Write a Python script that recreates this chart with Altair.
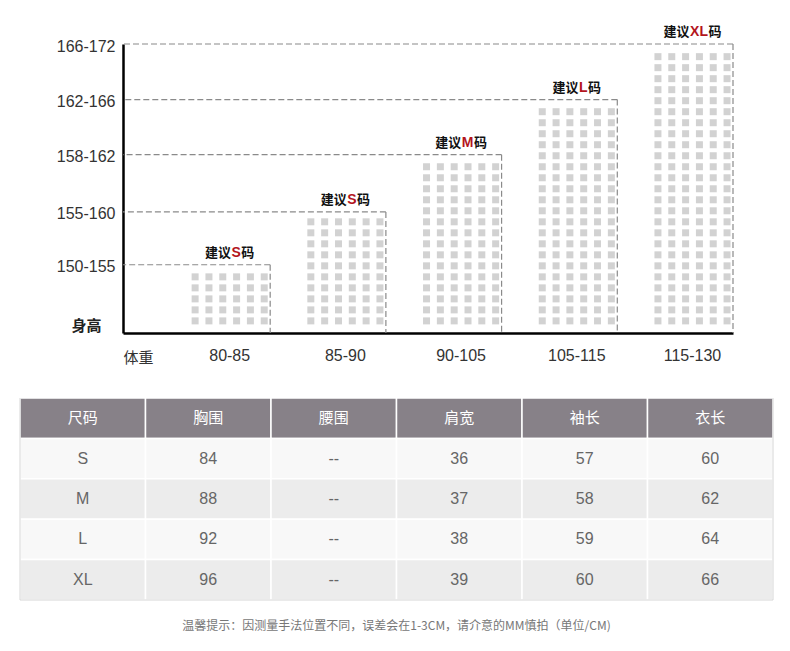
import altair as alt
import pandas as pd

# ---------------- data ----------------
weights = ["80-85", "85-90", "90-105", "105-115", "115-130"]
height_ranges = ["150-155", "155-160", "158-162", "162-166", "166-172"]
levels = [6.1, 10.9, 16.1, 21.1, 26.15]          # bar heights (grid-row units)
suggest = ["S", "S", "M", "L", "XL"]
square_rows = [5, 10, 15, 20, 25]
square_cols = 6

columns = ["尺码", "胸围", "腰围", "肩宽", "袖长", "衣长"]
sizes = ["S", "M", "L", "XL"]
chest = ["84", "88", "92", "96"]
waist = ["--", "--", "--", "--"]
shoulder = ["36", "37", "38", "39"]
sleeve = ["57", "58", "59", "60"]
length = ["60", "62", "64", "66"]
note = "温馨提示：因测量手法位置不同，误差会在1-3CM，请介意的MM慎拍（单位/CM)"

CJK = "Noto Sans CJK SC"
LAT = "Liberation Sans"

# ---------------- top chart ----------------
bars = pd.DataFrame({"weight": weights, "level": levels, "size": suggest,
                     "hr": height_ranges})
sq = pd.DataFrame([
    {"weight": w, "row": r + 1, "col": c}
    for w, n in zip(weights, square_rows)
    for r in range(n)
    for c in range(square_cols)
])

label_expr = "".join(f"datum.value == {lv} ? '{h}' : " for lv, h in zip(levels, height_ranges)) + "''"

x_scale = alt.Scale(domain=weights, paddingInner=0.3, paddingOuter=0.286, align=1)
y_scale = alt.Scale(domain=[-0.1, levels[-1]], nice=False, zero=False)

x_axis = alt.Axis(title="体重", titleX=0, titleY=24, titleAlign="left", titleBaseline="middle",
                  titleFont=CJK, titleFontSize=15, titleFontWeight="normal", titleColor="#333",
                  labelFont=LAT, labelFontSize=16, labelColor="#333",
                  labelPadding=14, labelAngle=0, ticks=False, grid=False,
                  domainColor="#000", domainWidth=2.5)
y_axis = alt.Axis(values=levels, labelExpr=label_expr, title="身高", titleAngle=0,
                  titleX=-37, titleY=281, titleAlign="center", titleBaseline="middle",
                  titleFont=CJK, titleFontSize=15, titleFontWeight="bold", titleColor="#222",
                  labelFont=LAT, labelFontSize=16, labelColor="#333",
                  labelPadding=8, labelOffset=2, ticks=False, grid=False,
                  domainColor="#000", domainWidth=2.5)


def X(**kw):
    return alt.X("weight:N", sort=weights, scale=x_scale, axis=x_axis, **kw)


def Y(field):
    return alt.Y(field, scale=y_scale, axis=y_axis)


squares = alt.Chart(sq).mark_square(size=49, color="#d2d2d2", opacity=1).encode(
    x=X(),
    xOffset=alt.XOffset("col:O", scale=alt.Scale(paddingOuter=0.43, paddingInner=0)),
    y=Y("row:Q"),
)

dash = dict(strokeDash=[6, 3], color="#8a8a8a", strokeWidth=1.2)
hdash = alt.Chart(bars).mark_rule(**dash).encode(
    x=X(bandPosition=1), x2=alt.value(0), y=Y("level:Q"))
vdash = alt.Chart(bars).mark_rule(**dash).encode(
    x=X(bandPosition=1), y=Y("level:Q"), y2=alt.value("height"))

# "建议" + red size letter + "码": letter centred, CJK parts placed beside it
LETTER_W = {"S": 9.3, "M": 11.7, "L": 8.6, "XL": 17.9}   # bold 14px glyph widths
CENTER = 6.5
lab_layers = [alt.Chart(bars).mark_text(
    align="center", baseline="middle", dx=CENTER, dy=-12, font=LAT, fontSize=14,
    fontWeight="bold", color="#b3151d").encode(x=X(), y=Y("level:Q"), text="size:N")]
for s in sorted(set(suggest), key=suggest.index):
    w = LETTER_W[s]
    sub = alt.Chart(bars).transform_filter(f"datum.size == '{s}'")
    lab_layers.append(sub.transform_calculate(t="'建议'").mark_text(
        align="right", baseline="middle", dx=CENTER - w / 2 - 0.5, dy=-12, font=CJK,
        fontSize=13, fontWeight="bold", color="#111").encode(x=X(), y=Y("level:Q"), text="t:N"))
    lab_layers.append(sub.transform_calculate(t="'码'").mark_text(
        align="left", baseline="middle", dx=CENTER + w / 2 + 0.5, dy=-12, font=CJK,
        fontSize=13, fontWeight="bold", color="#111").encode(x=X(), y=Y("level:Q"), text="t:N"))

top = alt.layer(squares, hdash, vdash, *lab_layers).properties(width=610, height=289)

# ---------------- table ----------------
row_keys = ["head", "S", "M", "L", "XL"]
row_colors = ["#878188", "#f8f8f8", "#ececec", "#f8f8f8", "#ececec"]
cells = [{"row": "head", "i": j, "t": c} for j, c in enumerate(columns)]
for k, s in enumerate(sizes):
    vals = [s, chest[k], waist[k], shoulder[k], sleeve[k], length[k]]
    cells += [{"row": s, "i": j, "t": v} for j, v in enumerate(vals)]
cells = pd.DataFrame(cells)

ncol = len(columns)
tx = alt.Scale(domain=[0, ncol], range=[-103, 650], nice=False, zero=False)
ty = alt.Scale(domain=row_keys, paddingInner=0, paddingOuter=0)


def TY(**kw):
    return alt.Y("row:N", sort=row_keys, scale=ty, axis=None, **kw)


base = alt.Chart(cells).transform_calculate(i1="datum.i + 1", ic="datum.i + 0.5")
rects = base.mark_rect(stroke="white", strokeWidth=1.5).encode(
    x=alt.X("i:Q", scale=tx, axis=None), x2="i1:Q", y=TY(),
    fill=alt.Fill("row:N", scale=alt.Scale(domain=row_keys, range=row_colors), legend=None),
)
frame = pd.DataFrame({"x0": [0], "x1": [ncol], "row": ["XL"]})
left_edge = alt.Chart(frame).mark_rule(color="#d6d6d6", strokeWidth=1).encode(
    x=alt.X("x0:Q", scale=tx, axis=None))
right_edge = alt.Chart(frame).mark_rule(color="#d6d6d6", strokeWidth=1).encode(
    x=alt.X("x1:Q", scale=tx, axis=None))
bottom_edge = alt.Chart(frame).mark_rule(color="#d6d6d6", strokeWidth=1).encode(
    x=alt.X("x0:Q", scale=tx, axis=None), x2="x1:Q", y=TY(bandPosition=1))

head_text = base.transform_filter("datum.row == 'head'").mark_text(
    font=CJK, fontSize=15, color="white", baseline="middle").encode(
    x=alt.X("ic:Q", scale=tx, axis=None), y=TY(), text="t:N")
body_text = base.transform_filter("datum.row != 'head'").mark_text(
    font=LAT, fontSize=16, color="#666", baseline="middle").encode(
    x=alt.X("ic:Q", scale=tx, axis=None), y=TY(), text="t:N")

table = alt.layer(rects, left_edge, right_edge, bottom_edge, head_text, body_text).properties(
    width=650, height=202,
    title=alt.TitleParams(note, orient="bottom", anchor="middle", frame="bounds",
                          font=CJK, fontSize=12, fontWeight="normal", color="#777", offset=20),
)

chart = alt.vconcat(top, table, spacing=32).properties(
    padding={"left": 11, "top": 17, "right": 5, "bottom": 5},
    background="white",
).configure_view(stroke=None)

chart.save("out.html", embed_options={"renderer": "svg", "actions": False})
